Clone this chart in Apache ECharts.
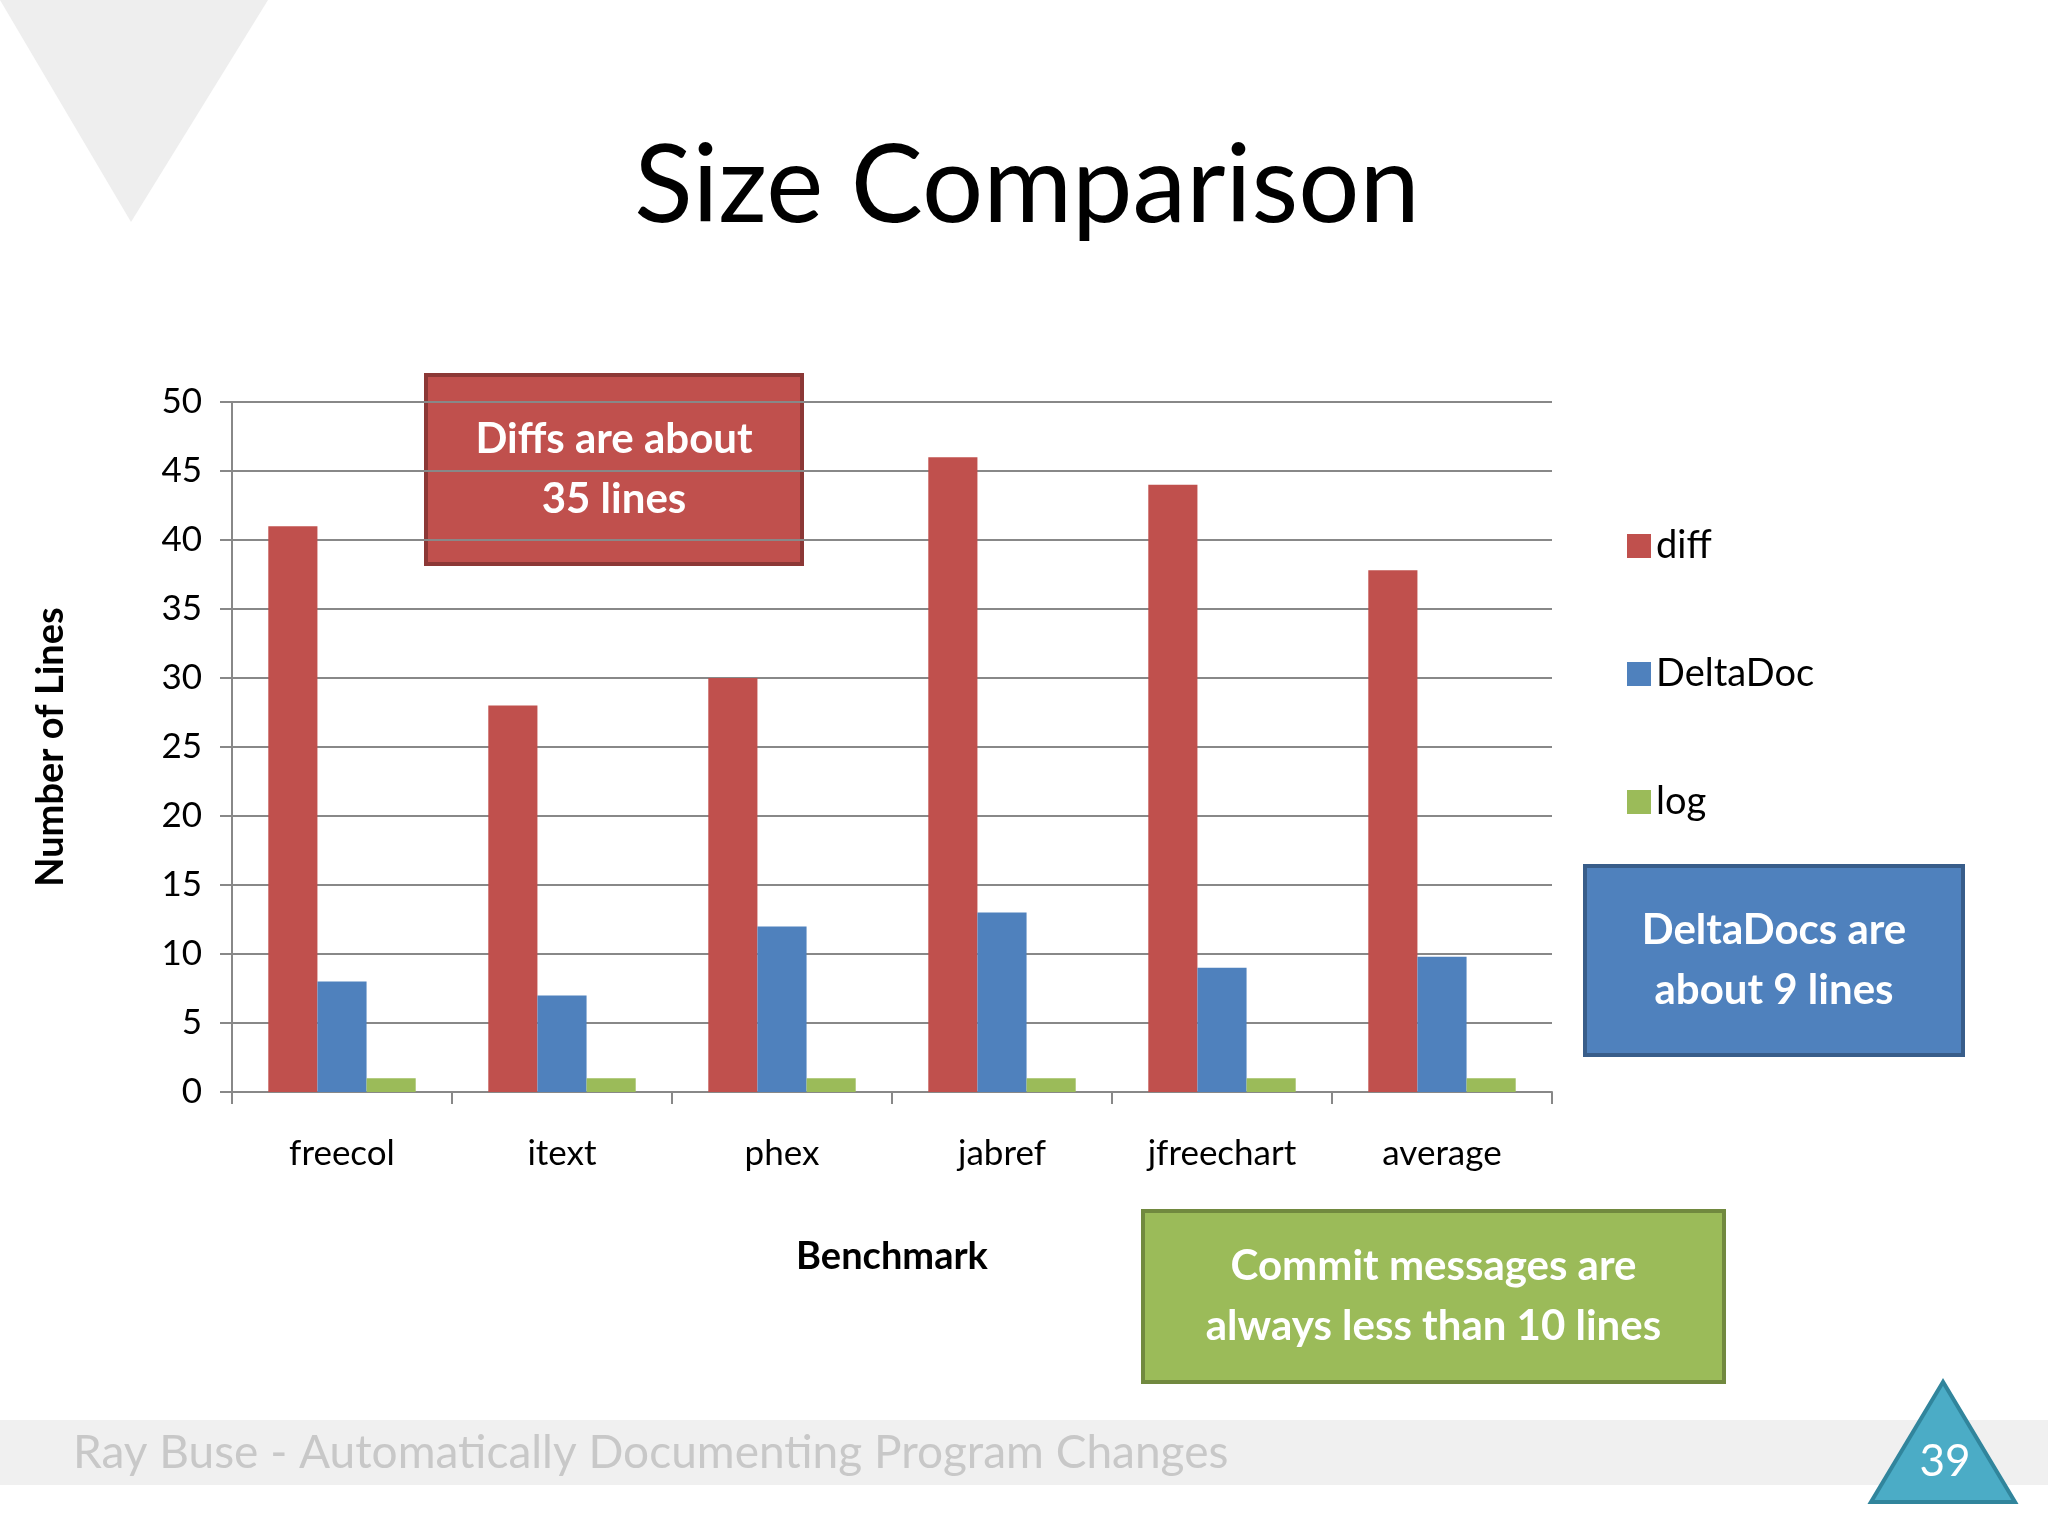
<!DOCTYPE html>
<html><head><meta charset="utf-8">
<script src="https://cdn.jsdelivr.net/npm/echarts@6/dist/echarts.min.js"></script>
<style>html,body{margin:0;padding:0;background:#fff}#c{width:2048px;height:1536px}</style>
</head><body><div id="c"></div>
<script>
const categories = ['freecol','itext','phex','jabref','jfreechart','average'];
const diffValues = [41, 28, 30, 46, 44, 37.8];
const deltaDocValues = [8, 7, 12, 13, 9, 9.8];
const logValues = [1, 1, 1, 1, 1, 1];
const yTicks = [0,5,10,15,20,25,30,35,40,45,50];

const F = 'Lato, "Open Sans", sans-serif';
const chart = echarts.init(document.getElementById('c'));
function box(x,y,w,h,fill,stroke,lines){
  return {type:'group',children:[
    {type:'rect',shape:{x:x,y:y,width:w,height:h},style:{fill:fill,stroke:stroke,lineWidth:4}},
    {type:'text',x:x+w/2,y:y+h/2,style:{text:lines,fill:'#fff',font:'bold 42px '+F,align:'center',verticalAlign:'middle',lineHeight:60}}
  ]};
}
chart.setOption({
  animation:false,
  backgroundColor:'#fff',
  title:{text:'Size Comparison',left:1022,top:128,textAlign:'center',textStyle:{fontSize:108,fontWeight:'normal',fontFamily:F,color:'#000'}},
  grid:{left:232,right:496,top:402,bottom:444},
  legend:{orient:'vertical',left:1622,top:522,itemGap:90,itemWidth:24,itemHeight:24,icon:'rect',
    textStyle:{fontSize:38,fontFamily:F,color:'#000'},data:['diff','DeltaDoc','log']},
  xAxis:{type:'category',data:categories,name:'Benchmark',nameLocation:'middle',nameGap:146,
    nameTextStyle:{fontSize:38,fontWeight:'bold',fontFamily:F,color:'#000'},
    axisLine:{lineStyle:{color:'#888',width:2}},
    axisTick:{show:true,length:12,lineStyle:{color:'#888',width:2}},
    axisLabel:{fontSize:35,fontFamily:F,color:'#000',margin:44}},
  yAxis:{type:'value',min:0,max:50,interval:5,name:'Number of Lines',nameLocation:'middle',nameGap:162,
    nameTextStyle:{fontSize:38,fontWeight:'bold',fontFamily:F,color:'#000'},
    axisLine:{show:true,lineStyle:{color:'#888',width:2}},
    axisTick:{show:true,length:12,inside:false,lineStyle:{color:'#888',width:2}},
    splitLine:{lineStyle:{color:'#888',width:2}},
    axisLabel:{fontSize:35,fontFamily:F,color:'#000',margin:30,formatter:v=>yTicks.includes(v)?String(v):''}},
  series:[
    {name:'diff',type:'bar',data:diffValues,barGap:'0%',barCategoryGap:'33%',itemStyle:{color:'#c0504d'}},
    {name:'DeltaDoc',type:'bar',data:deltaDocValues,barGap:'0%',itemStyle:{color:'#4f81bd'}},
    {name:'log',type:'bar',data:logValues,barGap:'0%',itemStyle:{color:'#9bbb59'}}
  ],
  graphic:[
    {type:'polygon',z:-1,shape:{points:[[0,0],[268,0],[131,222]]},style:{fill:'#eeeeee'}},
    {type:'rect',z:-1,shape:{x:0,y:1420,width:2048,height:65},style:{fill:'#f0f0f0'}},
    {type:'text',x:73,y:1453,style:{text:'Ray Buse - Automatically Documenting Program Changes',fill:'#c8c8c8',font:'46px '+F,verticalAlign:'middle'}},
    {type:'polygon',shape:{points:[[1943,1382],[1871,1502],[2015,1502]]},style:{fill:'#4bacc6',stroke:'#31859c',lineWidth:4}},
    {type:'text',x:1945,y:1462,style:{text:'39',fill:'#fff',font:'44px '+F,align:'center',verticalAlign:'middle'}},
    box(426,375,376,189,'#c0504d','#8c3836','Diffs are about\n35 lines'),
    box(1585,866,378,189,'#4f81bd','#385d8a','DeltaDocs are\nabout 9 lines'),
    box(1143,1211,581,171,'#9bbb59','#71893f','Commit messages are\nalways less than 10 lines')
  ]
});
</script></body></html>
